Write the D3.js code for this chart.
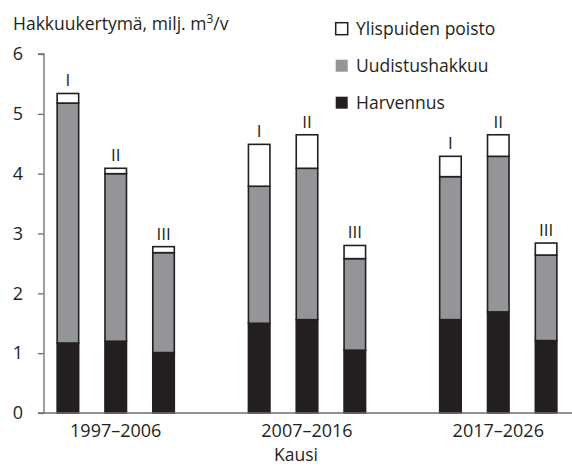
<!DOCTYPE html>
<html>
<head>
<meta charset="utf-8">
<script src="https://cdn.jsdelivr.net/npm/d3@7"></script>
<style>
  body { margin: 0; background: #fff; }
  text { font-family: "Open Sans", sans-serif; fill: #231f20; }
</style>
</head>
<body>
<div class="canvas"></div>
<script>
// data (milj. m3/v)
const periods = ['1997–2006', '2007–2016', '2017–2026'];
const scenarios = ['I', 'II', 'III'];
const harvennus = [1.17, 1.20, 1.01, 1.50, 1.56, 1.05, 1.56, 1.69, 1.21];
const uudistus = [4.01, 2.80, 1.67, 2.29, 2.53, 1.53, 2.39, 2.60, 1.43];
const ylispuut = [0.16, 0.09, 0.10, 0.70, 0.56, 0.22, 0.34, 0.36, 0.20];
const yTicks = [0, 1, 2, 3, 4, 5, 6];
const seriesNames = ['Ylispuiden poisto', 'Uudistushakkuu', 'Harvennus'];

const width = 572, height = 466;
const margin = { top: 54, right: 2, bottom: 53, left: 44 };

const svg = d3.select('.canvas')
    .append('svg')
    .attr('width', width)
    .attr('height', height);

// build rows for stacking
const rows = [];
periods.forEach((p, i) => {
    scenarios.forEach((s, j) => {
        const k = i * 3 + j;
        rows.push({ period: p, scen: s, harv: harvennus[k], uud: uudistus[k], yli: ylispuut[k] });
    });
});

const keys = ['harv', 'uud', 'yli'];
const fills = { harv: '#231f20', uud: '#939598', yli: '#ffffff' };
const stacked = d3.stack().keys(keys)(rows);

const x0 = d3.scaleBand()
    .domain(periods)
    .range([margin.left, width - margin.right])
    .paddingInner(0.25)
    .paddingOuter(0);

const x1 = d3.scaleBand()
    .domain(scenarios)
    .range([0, x0.bandwidth()])
    .paddingInner(0.55)
    .paddingOuter(0.275);

const y = d3.scaleLinear()
    .domain([0, 6])
    .range([height - margin.bottom, margin.top]);

// bars
const layers = svg.append('g')
    .selectAll('g')
    .data(stacked)
    .join('g')
    .attr('fill', d => fills[d.key]);

layers.selectAll('rect')
    .data(d => d)
    .join('rect')
    .attr('x', d => x0(d.data.period) + x1(d.data.scen))
    .attr('y', d => y(d[1]))
    .attr('width', x1.bandwidth())
    .attr('height', d => y(d[0]) - y(d[1]))
    .attr('stroke', '#231f20')
    .attr('stroke-width', 1.6);

// scenario labels above bars
svg.append('g')
    .selectAll('text')
    .data(rows)
    .join('text')
    .attr('x', d => x0(d.period) + x1(d.scen) + x1.bandwidth() / 2)
    .attr('y', d => y(d.harv + d.uud + d.yli) - 7)
    .attr('text-anchor', 'middle')
    .style('font-size', '17px')
    .text(d => d.scen);

// axes
const yAxis = d3.axisLeft(y).tickValues(yTicks).tickSize(6).tickPadding(15).tickFormat(d3.format('d'));
const yAxisGroup = svg.append('g')
    .attr('transform', `translate(${margin.left},0)`)
    .call(yAxis);
yAxisGroup.select('.domain').attr('d', `M-6,${y(6)}H0V${y(0)}`);

const xAxisGroup = svg.append('g')
    .attr('transform', `translate(0,${y(0)})`)
    .call(d3.axisBottom(x0).tickSize(0).tickPadding(11));
xAxisGroup.select('.domain').attr('d', `M${margin.left - 6},0H${width}`);

svg.selectAll('.domain, .tick line')
    .attr('stroke', '#6d6e71')
    .attr('stroke-width', 1.3);
svg.selectAll('.tick text')
    .style('font-size', '18px')
    .style('font-family', '"Open Sans", sans-serif')
    .attr('fill', '#231f20');

// axis titles
const yTitle = svg.append('text')
    .attr('x', 13)
    .attr('y', 30)
    .style('font-size', '17.5px');
yTitle.append('tspan').text('Hakkuukertymä, milj. m');
yTitle.append('tspan').attr('dy', -7).style('font-size', '12px').text('3');
yTitle.append('tspan').attr('dy', 7).text('/v');

svg.append('text')
    .attr('x', 296)
    .attr('y', 461)
    .attr('text-anchor', 'middle')
    .style('font-size', '17.5px')
    .text('Kausi');

// legend
const legend = svg.append('g')
    .attr('transform', 'translate(335,22)');
const legendItems = legend.selectAll('g')
    .data(seriesNames)
    .join('g')
    .attr('transform', (d, i) => `translate(0,${i * 37})`);
legendItems.append('rect')
    .attr('width', 12)
    .attr('height', 12)
    .attr('x', 0.7)
    .attr('y', 0.7)
    .attr('fill', (d, i) => fills[keys[2 - i]])
    .attr('stroke', (d, i) => i === 0 ? '#231f20' : 'none')
    .attr('stroke-width', 1.5);
legendItems.append('text')
    .attr('x', 21)
    .attr('y', 12.5)
    .style('font-size', '17.5px')
    .text(d => d);
</script>
</body>
</html>
